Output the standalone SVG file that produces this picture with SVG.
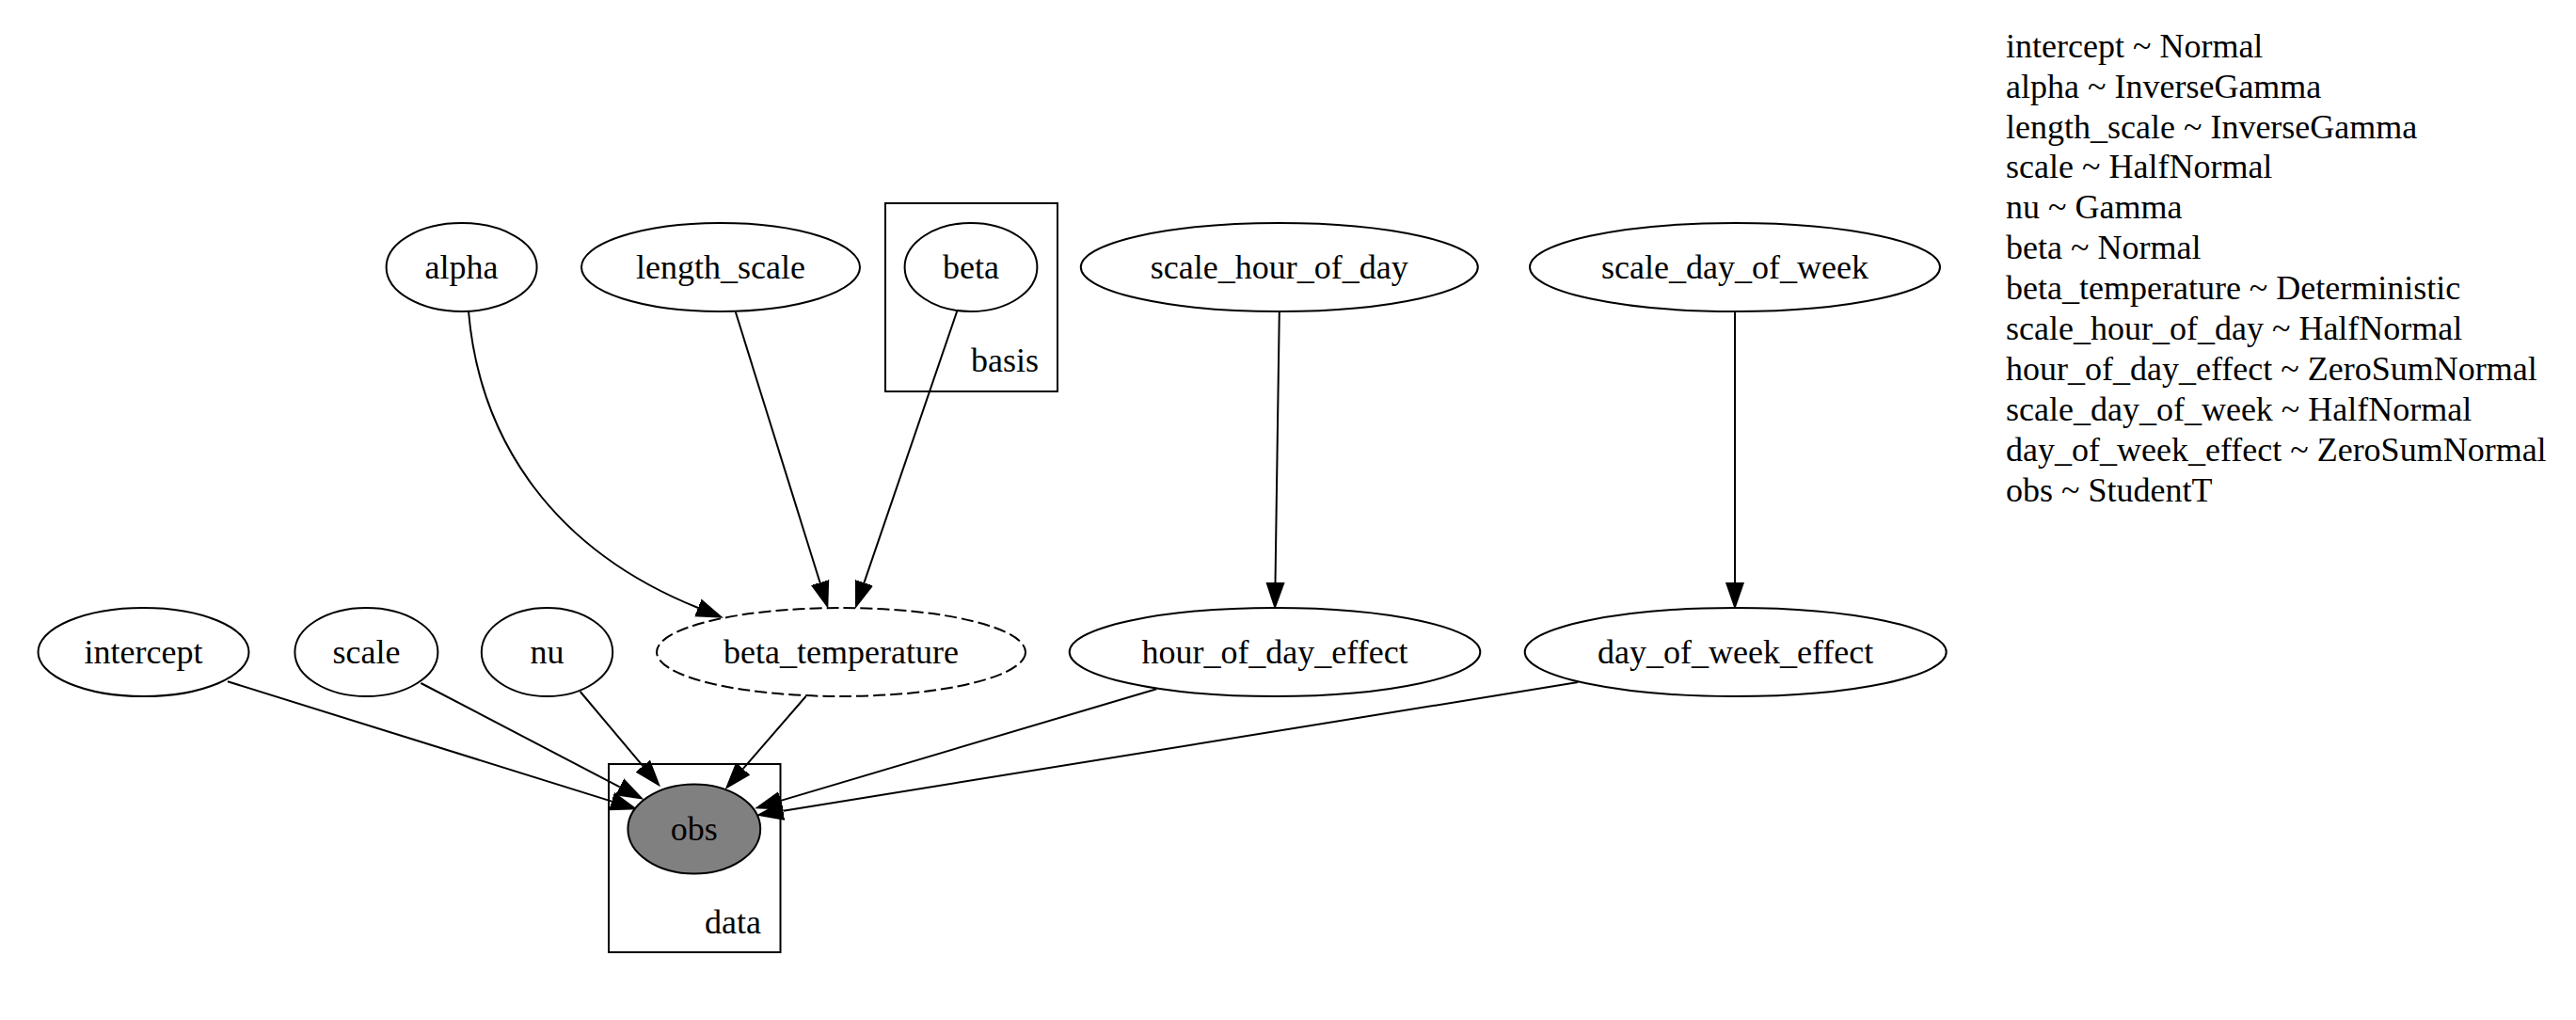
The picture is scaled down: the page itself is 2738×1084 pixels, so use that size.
<svg xmlns="http://www.w3.org/2000/svg" width="2738" height="1084" viewBox="0 0 2738 1084">
<style>
  .node ellipse { fill: #ffffff; stroke: #000000; stroke-width: 2; }
  .node text, .plate text, .legend text { font-family: "Liberation Serif", "Times New Roman", serif; font-size: 36px; fill: #000000; }
  .node text { text-anchor: middle; }
  .plate rect { fill: none; stroke: #000000; stroke-width: 2; }
  .plate text { text-anchor: end; }
  .edges path { fill: none; stroke: #000000; stroke-width: 2; marker-end: url(#arrow); }
  .dashed ellipse { stroke-dasharray: 13 5; }
  .observed ellipse { fill: #808080; }
</style>
<defs>
  <marker id="arrow" markerUnits="userSpaceOnUse" markerWidth="30" markerHeight="22" viewBox="0 -11 30 22" refX="0" refY="0" orient="auto">
    <path d="M0,-9 L26,0 L0,9 Z" fill="#000000" stroke="#000000" stroke-width="2"/>
  </marker>
</defs>
<rect x="0" y="0" width="2738" height="1084" fill="#ffffff"/>

<g id="plate_basis" class="plate">
  <rect x="941" y="216" width="183" height="200"/>
  <text x="1104" y="395">basis</text>
</g>
<g id="plate_data" class="plate">
  <rect x="647" y="812" width="182.5" height="200"/>
  <text x="809" y="992">data</text>
</g>

<g id="edges" class="edges">
  <path d="M498,331 C510,470 590,585 742,646"/>
  <path d="M781.8,331.5 L871.6,619.2"/>
  <path d="M1017.2,330.8 L918.4,619.4"/>
  <path d="M1359.8,331 L1355.5,619"/>
  <path d="M1844,331 L1844,619"/>
  <path d="M242,724.3 L650.2,851.6"/>
  <path d="M447.4,726 L658.7,836.3"/>
  <path d="M616.7,735 L683.3,814.1"/>
  <path d="M856.6,740 L789.7,817.1"/>
  <path d="M1229.2,732.2 L829.9,850.9"/>
  <path d="M1677.2,725.1 L832.4,861.8"/>
</g>

<g id="node_alpha" class="node">
  <ellipse cx="490.6" cy="284" rx="80" ry="47"/>
  <text x="490.6" y="296">alpha</text>
</g>
<g id="node_length_scale" class="node">
  <ellipse cx="766" cy="284" rx="148" ry="47"/>
  <text x="766" y="296">length_scale</text>
</g>
<g id="node_beta" class="node">
  <ellipse cx="1032" cy="284" rx="70.4" ry="47"/>
  <text x="1032" y="296">beta</text>
</g>
<g id="node_scale_hour_of_day" class="node">
  <ellipse cx="1359.8" cy="284" rx="211" ry="47"/>
  <text x="1359.8" y="296">scale_hour_of_day</text>
</g>
<g id="node_scale_day_of_week" class="node">
  <ellipse cx="1844" cy="284" rx="218" ry="47"/>
  <text x="1844" y="296">scale_day_of_week</text>
</g>
<g id="node_intercept" class="node">
  <ellipse cx="152.5" cy="693" rx="112" ry="47"/>
  <text x="152.5" y="705">intercept</text>
</g>
<g id="node_scale" class="node">
  <ellipse cx="389.4" cy="693" rx="76" ry="47"/>
  <text x="389.4" y="705">scale</text>
</g>
<g id="node_nu" class="node">
  <ellipse cx="581.5" cy="693" rx="69.7" ry="47"/>
  <text x="581.5" y="705">nu</text>
</g>
<g id="node_beta_temperature" class="node dashed">
  <ellipse cx="894" cy="693" rx="196" ry="47"/>
  <text x="894" y="705">beta_temperature</text>
</g>
<g id="node_hour_of_day_effect" class="node">
  <ellipse cx="1355" cy="693" rx="218.3" ry="47"/>
  <text x="1355" y="705">hour_of_day_effect</text>
</g>
<g id="node_day_of_week_effect" class="node">
  <ellipse cx="1844.7" cy="693" rx="224" ry="47"/>
  <text x="1844.7" y="705">day_of_week_effect</text>
</g>
<g id="node_obs" class="node observed">
  <ellipse cx="737.8" cy="881" rx="70.4" ry="47.5"/>
  <text x="737.8" y="893">obs</text>
</g>

<g id="legend" class="legend">
  <text x="2132" y="60.7">intercept ~ Normal</text>
  <text x="2132" y="103.6">alpha ~ InverseGamma</text>
  <text x="2132" y="146.5">length_scale ~ InverseGamma</text>
  <text x="2132" y="189.4">scale ~ HalfNormal</text>
  <text x="2132" y="232.3">nu ~ Gamma</text>
  <text x="2132" y="275.2">beta ~ Normal</text>
  <text x="2132" y="318.1">beta_temperature ~ Deterministic</text>
  <text x="2132" y="361">scale_hour_of_day ~ HalfNormal</text>
  <text x="2132" y="403.9">hour_of_day_effect ~ ZeroSumNormal</text>
  <text x="2132" y="446.8">scale_day_of_week ~ HalfNormal</text>
  <text x="2132" y="489.7">day_of_week_effect ~ ZeroSumNormal</text>
  <text x="2132" y="532.6">obs ~ StudentT</text>
</g>
</svg>
